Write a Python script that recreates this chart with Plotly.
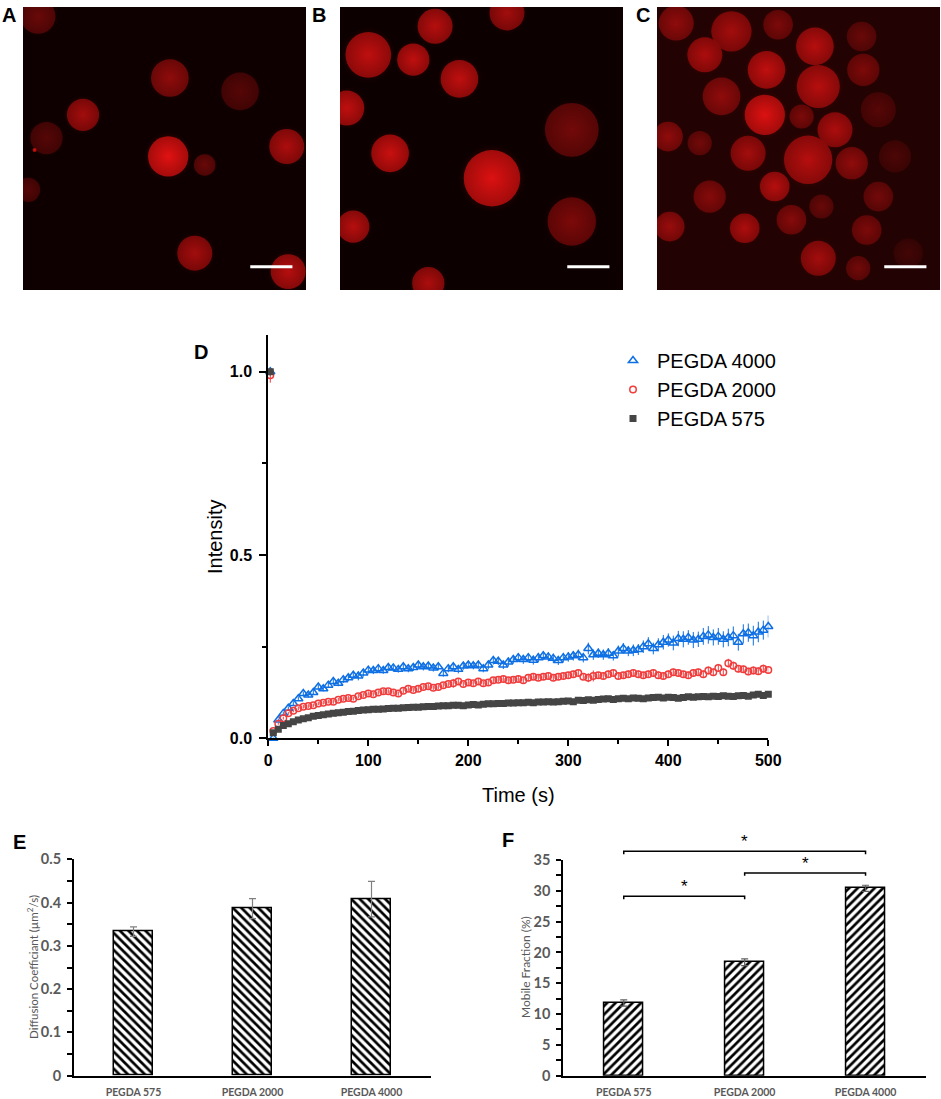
import plotly.graph_objects as go

W, H = 941, 1099

# ---------------- panels A-C : cells (x, y in % of image from top-left, diameter in %, red level)
cells_a_x = [5.3, 51.9, 76.7, 21.2, 8.3, 51.3, 64.2, 93.2, 1.8, 60.7, 93.7, 4.1]
cells_a_y = [3.3, 25.1, 29.8, 38.1, 46.3, 52.8, 55.8, 49.3, 64.6, 87.0, 93.5, 50.5]
cells_a_d = [13, 14, 14, 12, 12, 15, 8, 13, 9, 13, 13, 1.5]
cells_a_level = [110, 150, 90, 170, 90, 235, 110, 180, 90, 170, 190, 230]

cells_b_x = [33.6, 59.0, 10.0, 25.9, 42.2, 2.4, 81.9, 17.7, 53.7, 81.9, 4.7, 31.2]
cells_b_y = [6.8, 2.1, 16.9, 18.6, 25.4, 35.7, 43.4, 51.7, 60.5, 75.8, 77.6, 97.6]
cells_b_d = [13, 13, 17, 12, 14, 13, 20, 14, 21, 18, 12, 12]
cells_b_level = [190, 170, 200, 200, 200, 200, 120, 210, 230, 130, 190, 180]

cells_c_x = [6.8, 26.3, 42.8, 55.8, 16.9, 72.3, 38.7, 57.0, 72.9, 22.8, 38.1, 51.1, 62.9, 78.2, 3.9, 15.1,
             32.2, 53.4, 68.8, 84.1, 41.6, 18.6, 58.1, 78.2, 4.5, 31.0, 47.5, 74.1, 57.0, 71.1, 88.8]
cells_c_y = [5.7, 8.6, 6.3, 13.9, 16.9, 10.4, 22.2, 28.1, 22.2, 31.6, 38.1, 38.7, 43.4, 36.3, 45.8, 48.1,
             51.7, 54.0, 55.2, 52.8, 63.4, 67.0, 70.5, 67.0, 77.6, 78.2, 75.2, 78.8, 88.8, 92.3, 87.0]
cells_c_d = [13, 15, 11, 14, 13, 11, 14, 16, 12, 14, 15, 9, 13, 13, 11, 9,
             13, 18, 12, 12, 11, 12, 9, 11, 11, 11, 11, 11, 13, 9, 11]
cells_c_level = [150, 170, 130, 190, 180, 110, 200, 190, 130, 150, 230, 130, 180, 90, 150, 120,
                 170, 190, 150, 80, 190, 140, 110, 120, 160, 180, 140, 130, 170, 120, 70]

scale_bar = (80.3, 95.2, 91.8)  # x0, x1, y in % of image

# ---------------- panel D : FRAP recovery
time_s = [2] + list(range(5, 505, 5))

pegda4000 = [1.0,
             0.0, 0.05, 0.068, 0.082, 0.095, 0.108, 0.122, 0.118, 0.125, 0.14,
             0.135, 0.145, 0.155, 0.15, 0.16, 0.165, 0.172, 0.17, 0.178, 0.186,
             0.185, 0.19, 0.185, 0.193, 0.192, 0.188, 0.195, 0.19, 0.193, 0.2,
             0.195, 0.197, 0.192, 0.195, 0.177, 0.19, 0.195, 0.188, 0.197, 0.2,
             0.198, 0.2, 0.19, 0.2, 0.212, 0.21, 0.2, 0.208, 0.215, 0.22,
             0.215, 0.22, 0.213, 0.22, 0.225, 0.222, 0.218, 0.212, 0.22, 0.222,
             0.225, 0.228, 0.22, 0.245, 0.228, 0.232, 0.228, 0.232, 0.225, 0.238,
             0.245, 0.238, 0.24, 0.242, 0.25, 0.258, 0.245, 0.255, 0.262, 0.268,
             0.26, 0.272, 0.27, 0.275, 0.268, 0.27, 0.278, 0.282, 0.275, 0.278,
             0.27, 0.275, 0.28, 0.262, 0.285, 0.288, 0.28, 0.29, 0.295, 0.305]
pegda4000_err = [0.012,
                 0.002, 0.004, 0.005, 0.005, 0.006, 0.006, 0.006, 0.007, 0.007, 0.007,
                 0.007, 0.008, 0.008, 0.008, 0.009, 0.009, 0.01, 0.012, 0.01, 0.01,
                 0.01, 0.011, 0.009, 0.01, 0.01, 0.009, 0.01, 0.01, 0.009, 0.01,
                 0.01, 0.009, 0.01, 0.01, 0.009, 0.01, 0.01, 0.011, 0.01, 0.01,
                 0.01, 0.011, 0.01, 0.012, 0.011, 0.01, 0.011, 0.012, 0.011, 0.012,
                 0.012, 0.011, 0.012, 0.013, 0.012, 0.012, 0.013, 0.012, 0.013, 0.013,
                 0.013, 0.014, 0.013, 0.016, 0.014, 0.013, 0.014, 0.014, 0.013, 0.015,
                 0.015, 0.014, 0.016, 0.015, 0.017, 0.018, 0.016, 0.018, 0.02, 0.018,
                 0.02, 0.021, 0.022, 0.02, 0.022, 0.021, 0.023, 0.024, 0.022, 0.023,
                 0.022, 0.024, 0.025, 0.023, 0.026, 0.025, 0.027, 0.028, 0.026, 0.03]

pegda2000 = [0.99,
             0.02, 0.04, 0.055, 0.068, 0.075, 0.082, 0.086, 0.088, 0.09, 0.095,
             0.097, 0.1, 0.1, 0.105, 0.108, 0.11, 0.108, 0.115, 0.118, 0.122,
             0.12, 0.125, 0.128, 0.128, 0.125, 0.122, 0.13, 0.135, 0.132, 0.135,
             0.14, 0.142, 0.138, 0.14, 0.145, 0.148, 0.15, 0.155, 0.148, 0.152,
             0.15, 0.155, 0.15, 0.152, 0.158, 0.16, 0.162, 0.158, 0.16, 0.162,
             0.158, 0.165, 0.168, 0.165, 0.168, 0.17, 0.165, 0.168, 0.17, 0.172,
             0.175, 0.178, 0.168, 0.165, 0.17, 0.172, 0.17, 0.175, 0.178, 0.17,
             0.172, 0.175, 0.178, 0.175, 0.172, 0.175, 0.178, 0.172, 0.17, 0.175,
             0.18, 0.178, 0.175, 0.172, 0.178, 0.18, 0.175, 0.185, 0.18, 0.192,
             0.18, 0.205, 0.198, 0.19, 0.188, 0.182, 0.185, 0.183, 0.19, 0.186]
pegda2000_err = [0.02,
                 0.002, 0.003, 0.004, 0.004, 0.004, 0.005, 0.005, 0.005, 0.005, 0.005,
                 0.005, 0.005, 0.006, 0.005, 0.006, 0.006, 0.005, 0.006, 0.006, 0.006,
                 0.006, 0.006, 0.007, 0.006, 0.006, 0.006, 0.007, 0.007, 0.006, 0.008,
                 0.007, 0.007, 0.006, 0.007, 0.007, 0.007, 0.012, 0.008, 0.007, 0.007,
                 0.007, 0.008, 0.007, 0.007, 0.008, 0.007, 0.008, 0.008, 0.007, 0.008,
                 0.008, 0.009, 0.008, 0.008, 0.009, 0.008, 0.008, 0.009, 0.008, 0.009,
                 0.009, 0.01, 0.008, 0.012, 0.015, 0.009, 0.009, 0.01, 0.009, 0.009,
                 0.009, 0.01, 0.009, 0.01, 0.009, 0.01, 0.01, 0.01, 0.009, 0.01,
                 0.01, 0.01, 0.009, 0.01, 0.01, 0.01, 0.01, 0.011, 0.01, 0.011,
                 0.01, 0.012, 0.011, 0.01, 0.01, 0.01, 0.011, 0.01, 0.011, 0.01]

pegda575 = [1.0,
            0.015, 0.025, 0.035, 0.04, 0.045, 0.05, 0.053, 0.056, 0.06, 0.062,
            0.064, 0.066, 0.068, 0.07, 0.071, 0.073, 0.074, 0.076, 0.077, 0.078,
            0.079, 0.079, 0.08, 0.081, 0.082, 0.082, 0.083, 0.084, 0.085, 0.085,
            0.086, 0.087, 0.087, 0.088, 0.089, 0.089, 0.09, 0.09, 0.089, 0.091,
            0.092, 0.091, 0.093, 0.094, 0.094, 0.095, 0.095, 0.096, 0.096, 0.097,
            0.097, 0.098, 0.097, 0.099, 0.099, 0.1, 0.099, 0.1, 0.101, 0.102,
            0.1, 0.104, 0.103, 0.105, 0.104, 0.106, 0.107, 0.108, 0.106, 0.108,
            0.109, 0.108, 0.11, 0.109, 0.108, 0.11, 0.111, 0.112, 0.11, 0.112,
            0.111, 0.109, 0.111, 0.113, 0.112, 0.113, 0.114, 0.113, 0.115, 0.114,
            0.116, 0.115, 0.114, 0.116, 0.117, 0.115, 0.118, 0.12, 0.117, 0.12]
pegda575_err = [0.008,
                0.002, 0.002, 0.003, 0.003, 0.003, 0.003, 0.003, 0.003, 0.003, 0.003,
                0.003, 0.003, 0.003, 0.003, 0.003, 0.003, 0.003, 0.003, 0.003, 0.003,
                0.003, 0.003, 0.003, 0.003, 0.003, 0.003, 0.003, 0.003, 0.003, 0.003,
                0.003, 0.003, 0.003, 0.003, 0.003, 0.003, 0.003, 0.003, 0.003, 0.003,
                0.003, 0.003, 0.003, 0.003, 0.003, 0.003, 0.003, 0.003, 0.003, 0.003,
                0.003, 0.003, 0.003, 0.003, 0.003, 0.003, 0.003, 0.003, 0.003, 0.003,
                0.004, 0.004, 0.004, 0.004, 0.004, 0.004, 0.004, 0.004, 0.004, 0.004,
                0.004, 0.004, 0.004, 0.004, 0.004, 0.004, 0.004, 0.004, 0.004, 0.004,
                0.004, 0.004, 0.004, 0.004, 0.004, 0.004, 0.004, 0.004, 0.004, 0.004,
                0.004, 0.004, 0.004, 0.004, 0.005, 0.004, 0.005, 0.005, 0.005, 0.005]

# ---------------- panels E, F : bar charts
categories = ["PEGDA 575", "PEGDA 2000", "PEGDA 4000"]
diffusion = [0.333, 0.386, 0.408]
diffusion_err = [0.011, 0.023, 0.041]
mobile_fraction = [11.8, 18.4, 30.4]
mobile_fraction_err = [0.5, 0.55, 0.5]
# pairs compared (category index from, to) and bracket height in %
significance = [(0, 1, 29.1), (1, 2, 32.9), (0, 2, 36.4)]


def fx(p):
    return p / W


def fy(p):
    return 1 - p / H


IMG_PX = 283
ARIAL = "Arial, Liberation Sans, sans-serif"
CALIBRI = "Lato, Carlito, sans-serif"
GREY_TXT = "#595959"

fig = go.Figure()

# --- microscopy panels
images = [
    (cells_a_x, cells_a_y, cells_a_d, cells_a_level, "", "rgb(14,0,0)"),
    (cells_b_x, cells_b_y, cells_b_d, cells_b_level, "2", "rgb(12,0,0)"),
    (cells_c_x, cells_c_y, cells_c_d, cells_c_level, "3", "rgb(34,2,2)"),
]
shapes = []
for xs, ys, ds, levels, ax_id, bg in images:
    centre = [f"rgb({l},{round(l * 0.08)},{round(l * 0.08)})" for l in levels]
    rim = [f"rgb({round(l * 0.75)},{round(l * 0.05)},{round(l * 0.05)})" for l in levels]
    glow = [f"rgb({round(l * 0.6)},{round(l * 0.03)},{round(l * 0.03)})" for l in levels]
    # soft outer glow, then the cell body
    fig.add_trace(go.Scatter(
        x=xs, y=ys, mode="markers", xaxis="x" + ax_id, yaxis="y" + ax_id,
        marker=dict(size=[d * IMG_PX / 100 * 1.15 for d in ds], color=bg,
                    gradient=dict(type="radial", color=glow), line=dict(width=0)),
        hoverinfo="skip", showlegend=False))
    fig.add_trace(go.Scatter(
        x=xs, y=ys, mode="markers", xaxis="x" + ax_id, yaxis="y" + ax_id,
        marker=dict(size=[d * IMG_PX / 100 * 0.95 for d in ds], color=rim,
                    gradient=dict(type="radial", color=centre), line=dict(width=0), opacity=0.92),
        hoverinfo="skip", showlegend=False))
    shapes.append(dict(type="rect", xref=f"x{ax_id} domain", yref=f"y{ax_id} domain",
                       x0=0, x1=1, y0=0, y1=1, fillcolor=bg, line=dict(width=0), layer="below"))
    shapes.append(dict(type="line", xref="x" + ax_id, yref="y" + ax_id,
                       x0=scale_bar[0], x1=scale_bar[1], y0=scale_bar[2], y1=scale_bar[2],
                       line=dict(color="white", width=3)))

# --- FRAP curves
series = [
    ("PEGDA 4000", pegda4000, pegda4000_err, "triangle-up-open", 8, "#0d6fe3"),
    ("PEGDA 2000", pegda2000, pegda2000_err, "circle-open", 6.5, "#f03c3c"),
    ("PEGDA 575", pegda575, pegda575_err, "square", 5.5, "#454545"),
]
for name, vals, errs, sym, size, color in series:
    fig.add_trace(go.Scatter(
        x=time_s, y=vals, mode="markers", name=name, xaxis="x4", yaxis="y4",
        marker=dict(symbol=sym, size=size, color=color, line=dict(width=1.5, color=color)),
        error_y=dict(type="data", array=errs, color=color, thickness=1, width=0),
        cliponaxis=False))

# --- bar charts
cat_idx = list(range(len(categories)))
hatch = dict(fgcolor="black", bgcolor="white", fgopacity=1, fillmode="replace", size=6, solidity=0.45)
fig.add_trace(go.Bar(
    x=cat_idx, y=diffusion, width=0.32, xaxis="x5", yaxis="y5", showlegend=False,
    marker=dict(color="white", line=dict(color="black", width=1.5), pattern=dict(shape="\\", **hatch)),
    error_y=dict(type="data", array=diffusion_err, color="#808080", thickness=1.2, width=3.5)))
fig.add_trace(go.Bar(
    x=cat_idx, y=mobile_fraction, width=0.32, xaxis="x6", yaxis="y6", showlegend=False,
    marker=dict(color="white", line=dict(color="black", width=1.5), pattern=dict(shape="/", **hatch)),
    error_y=dict(type="data", array=mobile_fraction_err, color="#606060", thickness=1.2, width=3.5)))

F_RANGE = (0, 35)
annotations = []
for i0, i1, level in significance:
    xd0 = (i0 + 0.5) / len(categories)
    xd1 = (i1 + 0.5) / len(categories)
    yd = level / F_RANGE[1]
    drop = 0.45 / F_RANGE[1]
    shapes.append(dict(type="path", xref="x6 domain", yref="y6 domain",
                       path=f"M {xd0},{yd - drop} L {xd0},{yd} L {xd1},{yd} L {xd1},{yd - drop}",
                       line=dict(color="black", width=1.5)))
    annotations.append(dict(xref="x6 domain", yref="y6 domain", x=(xd0 + xd1) / 2, y=yd,
                            text="*", showarrow=False, xanchor="center", yanchor="bottom", yshift=-2,
                            font=dict(family=ARIAL, size=17, color="black")))


def label(text, px, py, font, angle=0):
    return dict(xref="paper", yref="paper", x=fx(px), y=fy(py), text=text, textangle=angle,
                xanchor="center", yanchor="middle", showarrow=False, font=font)


# panel letters
for letter, px, py in [("A", 9, 15), ("B", 319, 15), ("C", 643, 15),
                       ("D", 201, 352), ("E", 19, 842), ("F", 508, 840)]:
    annotations.append(label(f"<b>{letter}</b>", px, py, dict(family=ARIAL, size=20, color="black")))

# axis titles
annotations += [
    label("Intensity", 215, 537, dict(family=ARIAL, size=20, color="black"), -90),
    label("Time (s)", 518, 795, dict(family=ARIAL, size=20, color="black")),
    label("Diffusion Coefficiant (µm<sup>2</sup>/s)", 32, 967,
          dict(family=CALIBRI, size=11.5, color=GREY_TXT), -90),
    label("Mobile Fraction (%)", 525, 967, dict(family=CALIBRI, size=12, color=GREY_TXT), -90),
]

img_axis = dict(range=[0, 100], visible=False, fixedrange=True, automargin=False)
img_yaxis = dict(range=[100, 0], visible=False, fixedrange=True, automargin=False)

frap_common = dict(showline=True, linewidth=2, linecolor="black", showgrid=False, zeroline=False,
                   ticks="outside", tickwidth=2, tickcolor="black", automargin=False,
                   tickfont=dict(family=ARIAL, size=16, color="black", weight="bold"))

bar_x = dict(showline=True, linewidth=2, linecolor="black", showgrid=False, zeroline=False,
             range=[-0.5, 2.5], tickvals=cat_idx, ticktext=categories, ticks="",
             ticklabelstandoff=6, automargin=False,
             tickfont=dict(family=CALIBRI, size=10.5, color=GREY_TXT, weight="bold"))
bar_y = dict(showline=True, linewidth=2, linecolor="black", showgrid=False, zeroline=False,
             ticks="outside", ticklen=5, tickwidth=1.5, tickcolor="black", automargin=False,
             ticklabelstandoff=3,
             tickfont=dict(family=CALIBRI, size=14.5, color=GREY_TXT, weight="bold"))

fig.update_layout(
    width=W, height=H, margin=dict(l=0, r=0, t=0, b=0, autoexpand=False),
    paper_bgcolor="white", plot_bgcolor="white",
    xaxis=dict(domain=[fx(23), fx(306)], anchor="y", **img_axis),
    yaxis=dict(domain=[fy(290), fy(7)], anchor="x", **img_yaxis),
    xaxis2=dict(domain=[fx(340), fx(623)], anchor="y2", **img_axis),
    yaxis2=dict(domain=[fy(290), fy(7)], anchor="x2", **img_yaxis),
    xaxis3=dict(domain=[fx(657), fx(940)], anchor="y3", **img_axis),
    yaxis3=dict(domain=[fy(290), fy(7)], anchor="x3", **img_yaxis),
    xaxis4=dict(domain=[fx(268.3), fx(768.3)], anchor="y4", range=[0, 500], dtick=100, ticklen=6,
                minor=dict(dtick=50, ticks="outside", ticklen=4, tickwidth=2, tickcolor="black"),
                **frap_common),
    yaxis4=dict(domain=[fy(738.3), fy(335)], anchor="x4", range=[0, 1.1], dtick=0.5, tickformat=".1f",
                ticklen=7, ticklabelstandoff=4,
                minor=dict(dtick=0.25, ticks="outside", ticklen=4, tickwidth=2, tickcolor="black"),
                **frap_common),
    xaxis5=dict(domain=[fx(74), fx(431)], anchor="y5", **bar_x),
    yaxis5=dict(domain=[fy(1075.7), fy(859.3)], anchor="x5", range=[0, 0.5], dtick=0.1,
                minor=dict(dtick=0.05, ticks="outside", ticklen=5, tickwidth=1.5, tickcolor="black"),
                **bar_y),
    xaxis6=dict(domain=[fx(563.3), fx(926)], anchor="y6", **bar_x),
    yaxis6=dict(domain=[fy(1075.7), fy(860)], anchor="x6", range=list(F_RANGE), dtick=5,
                minor=dict(dtick=2.5, ticks="outside", ticklen=5, tickwidth=1.5, tickcolor="black"),
                **bar_y),
    legend=dict(x=fx(609), y=fy(341), xanchor="left", yanchor="top", bgcolor="rgba(0,0,0,0)",
                font=dict(family=ARIAL, size=20, color="black"), itemwidth=38, tracegroupgap=0),
    shapes=shapes, annotations=annotations, bargap=0,
)

# the page's default 8px body margin would push the figure off the window edge
fig.write_html("out.html", config={"displayModeBar": False},
               post_script="document.body.style.margin = '0';")
